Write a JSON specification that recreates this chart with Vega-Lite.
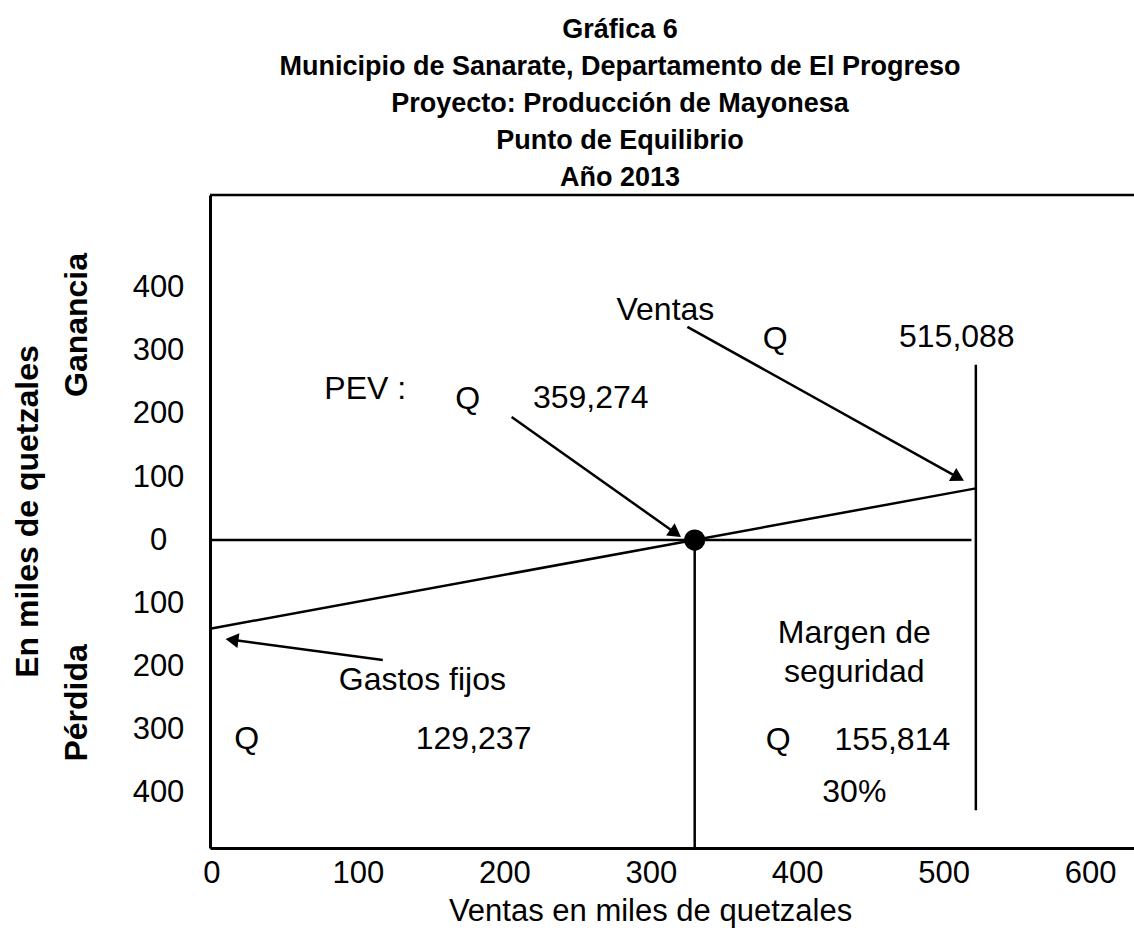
{
  "$schema": "https://vega.github.io/schema/vega-lite/v6.json",
  "width": 924,
  "height": 653,
  "autosize": {"type": "none"},
  "padding": {"left": 210, "top": 195, "right": 0, "bottom": 86},
  "background": "white",
  "config": {
    "view": {"stroke": null},
    "font": "Liberation Sans",
    "axis": {"grid": false, "ticks": false, "tickSize": 0}
  },
  "title": {
    "text": ["Gráfica 6", "Municipio de Sanarate, Departamento de El Progreso", "Proyecto: Producción de Mayonesa", "Punto de Equilibrio", "Año 2013"],
    "font": "Liberation Sans Narrow, Liberation Sans, sans-serif",
    "fontSize": 27,
    "fontWeight": "bold",
    "lineHeight": 37,
    "color": "black",
    "anchor": "middle",
    "dx": -52,
    "offset": 2
  },
  "datasets": {
    "segmentos": [
      {"elemento": "Ventas", "x": 0, "y": -140, "x2": 522, "y2": 82},
      {"elemento": "Cero", "x": 0, "y": 0, "x2": 519, "y2": 0},
      {"elemento": "PEV", "x": 330, "y": 0, "x2": 330, "y2": -488},
      {"elemento": "Ventas totales", "x": 522, "y": 278, "x2": 522, "y2": -428},
      {"elemento": "Flecha PEV", "x": 205, "y": 195, "x2": 317, "y2": 11},
      {"elemento": "Flecha Ventas", "x": 325, "y": 338, "x2": 510, "y2": 99},
      {"elemento": "Flecha Gastos fijos", "x": 117, "y": -190, "x2": 14, "y2": -158}
    ],
    "textos": [
      {"texto": "Ventas", "x": 310, "y": 365},
      {"texto": "Q", "x": 385, "y": 319},
      {"texto": "515,088", "x": 509, "y": 322},
      {"texto": "PEV :", "x": 105, "y": 239},
      {"texto": "Q", "x": 175, "y": 224},
      {"texto": "359,274", "x": 259, "y": 225},
      {"texto": "Gastos fijos", "x": 144, "y": -222},
      {"texto": "Q", "x": 24, "y": -316},
      {"texto": "129,237", "x": 179, "y": -316},
      {"texto": "Margen de", "x": 439, "y": -147},
      {"texto": "seguridad", "x": 439, "y": -209},
      {"texto": "Q", "x": 387, "y": -317},
      {"texto": "155,814", "x": 465, "y": -317},
      {"texto": "30%", "x": 439, "y": -399}
    ],
    "laterales": [
      {"texto": "Ganancia", "x": -92, "y": 341},
      {"texto": "Pérdida", "x": -92, "y": -258}
    ]
  },
  "layer": [
    {
      "data": {"name": "segmentos"},
      "mark": {"type": "rule", "strokeWidth": 2.5, "color": "black"},
      "encoding": {
        "x": {
          "field": "x", "type": "quantitative",
          "scale": {"domain": [-1, 630], "nice": false, "zero": false},
          "axis": {
            "values": [0, 100, 200, 300, 400, 500, 600],
            "ticks": false, "tickSize": 0, "grid": false,
            "domain": true, "domainColor": "black", "domainWidth": 3,
            "labelFont": "Liberation Sans", "labelFontSize": 31, "labelColor": "black",
            "labelPadding": 25, "labelBaseline": "middle", "labelFlush": false, "labelOverlap": false,
            "title": "Ventas en miles de quetzales",
            "titleFont": "Liberation Sans", "titleFontSize": 31, "titleFontWeight": "normal",
            "titleColor": "black", "titleX": 440, "titleY": 63,
            "titleAlign": "center", "titleBaseline": "middle"
          }
        },
        "y": {
          "field": "y", "type": "quantitative",
          "scale": {"domain": [-488, 547], "nice": false, "zero": false},
          "axis": {
            "values": [-400, -300, -200, -100, 0, 100, 200, 300, 400],
            "labelExpr": "'' + abs(datum.value)",
            "ticks": false, "tickSize": 0, "grid": false,
            "domain": true, "domainColor": "black", "domainWidth": 3,
            "labelFont": "Liberation Sans", "labelFontSize": 31, "labelColor": "black",
            "labelAlign": "center", "labelBaseline": "middle", "labelPadding": 52,
            "labelFlush": false, "labelOverlap": false,
            "title": "En miles de quetzales",
            "titleFont": "Liberation Sans", "titleFontSize": 32, "titleFontWeight": "bold",
            "titleColor": "black", "titleAngle": -90, "titleX": -183, "titleY": 316,
            "titleAlign": "center", "titleBaseline": "middle"
          }
        },
        "x2": {"field": "x2"},
        "y2": {"field": "y2"}
      }
    },
    {
      "data": {"values": [{"borde": "superior", "y": 547}]},
      "mark": {"type": "rule", "strokeWidth": 2.5, "color": "black"},
      "encoding": {
        "y": {"field": "y", "type": "quantitative", "scale": {"domain": [-488, 547], "nice": false, "zero": false}}
      }
    },
    {
      "data": {"name": "segmentos"},
      "transform": [{"filter": "datum.elemento === 'Flecha PEV'"}],
      "mark": {"type": "point", "shape": "triangle-up", "filled": true, "color": "black", "opacity": 1, "size": 225, "angle": 125},
      "encoding": {
        "x": {"field": "x2", "type": "quantitative", "scale": {"domain": [-1, 630], "nice": false, "zero": false}},
        "y": {"field": "y2", "type": "quantitative", "scale": {"domain": [-488, 547], "nice": false, "zero": false}}
      }
    },
    {
      "data": {"name": "segmentos"},
      "transform": [{"filter": "datum.elemento === 'Flecha Ventas'"}],
      "mark": {"type": "point", "shape": "triangle-up", "filled": true, "color": "black", "opacity": 1, "size": 225, "angle": 119},
      "encoding": {
        "x": {"field": "x2", "type": "quantitative", "scale": {"domain": [-1, 630], "nice": false, "zero": false}},
        "y": {"field": "y2", "type": "quantitative", "scale": {"domain": [-488, 547], "nice": false, "zero": false}}
      }
    },
    {
      "data": {"name": "segmentos"},
      "transform": [{"filter": "datum.elemento === 'Flecha Gastos fijos'"}],
      "mark": {"type": "point", "shape": "triangle-up", "filled": true, "color": "black", "opacity": 1, "size": 225, "angle": 277.5},
      "encoding": {
        "x": {"field": "x2", "type": "quantitative", "scale": {"domain": [-1, 630], "nice": false, "zero": false}},
        "y": {"field": "y2", "type": "quantitative", "scale": {"domain": [-488, 547], "nice": false, "zero": false}}
      }
    },
    {
      "data": {"name": "segmentos"},
      "transform": [{"filter": "datum.elemento === 'PEV'"}],
      "mark": {"type": "point", "shape": "circle", "filled": true, "color": "black", "opacity": 1, "size": 450},
      "encoding": {
        "x": {"field": "x", "type": "quantitative", "scale": {"domain": [-1, 630], "nice": false, "zero": false}},
        "y": {"field": "y", "type": "quantitative", "scale": {"domain": [-488, 547], "nice": false, "zero": false}}
      }
    },
    {
      "data": {"name": "textos"},
      "mark": {"type": "text", "font": "Liberation Sans", "fontSize": 32, "color": "black", "align": "center", "baseline": "middle"},
      "encoding": {
        "x": {"field": "x", "type": "quantitative", "scale": {"domain": [-1, 630], "nice": false, "zero": false}},
        "y": {"field": "y", "type": "quantitative", "scale": {"domain": [-488, 547], "nice": false, "zero": false}},
        "text": {"field": "texto"}
      }
    },
    {
      "data": {"name": "laterales"},
      "mark": {"type": "text", "font": "Liberation Sans", "fontSize": 32, "fontWeight": "bold", "color": "black", "align": "center", "baseline": "middle", "angle": 270},
      "encoding": {
        "x": {"field": "x", "type": "quantitative", "scale": {"domain": [-1, 630], "nice": false, "zero": false}},
        "y": {"field": "y", "type": "quantitative", "scale": {"domain": [-488, 547], "nice": false, "zero": false}},
        "text": {"field": "texto"}
      }
    }
  ]
}
